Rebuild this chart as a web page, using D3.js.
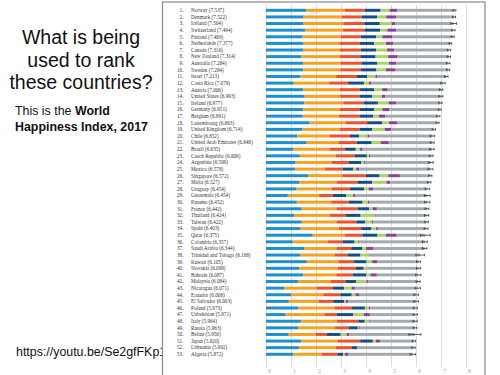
<!DOCTYPE html>
<html lang="en">
<head>
	<meta charset="UTF-8">
	<title>world happiness 2017</title>
	<style>
		body { margin: 0; background: #fff; }
		svg { display: block; }
	</style>
</head>
<body>
	<svg id="container" width="500" height="375"></svg>
</body>
<script src="https://cdn.jsdelivr.net/npm/d3@7"></script>
<script>
	// rows as they appear in the report, top to bottom
	let countries = ["Norway","Denmark","Iceland","Switzerland","Finland","Netherlands","Canada","New Zealand","Australia","Sweden",
		"Israel","Costa Rica","Austria","United States","Ireland","Germany","Belgium","Luxembourg","United Kingdom","Chile",
		"United Arab Emirates","Brazil","Czech Republic","Argentina","Mexico","Singapore","Malta","Uruguay","Guatemala","Panama",
		"France","Thailand","Taiwan","Spain","Qatar","Colombia","Saudi Arabia","Trinidad and Tobago","Kuwait","Slovakia",
		"Bahrain","Malaysia","Nicaragua","Ecuador","El Salvador","Poland","Uzbekistan","Italy","Russia","Belize",
		"Japan","Lithuania","Algeria"]
	let score = [7.537,7.522,7.504,7.494,7.469,7.377,7.316,7.314,7.284,7.284,
		7.213,7.079,7.006,6.993,6.977,6.951,6.891,6.863,6.714,6.652,
		6.648,6.635,6.609,6.599,6.578,6.572,6.527,6.454,6.454,6.452,
		6.442,6.424,6.422,6.403,6.375,6.357,6.344,6.168,6.105,6.098,
		6.087,6.084,6.071,6.008,6.003,5.973,5.971,5.964,5.963,5.956,
		5.920,5.902,5.872]
	let whiskerLow = [7.480,7.462,7.386,7.426,7.410,7.326,7.249,7.247,7.212,7.224,
		7.146,6.990,6.942,6.912,6.911,6.896,6.827,6.803,6.644,6.559,
		6.574,6.545,6.535,6.508,6.480,6.508,6.458,6.363,6.343,6.347,
		6.365,6.339,6.350,6.326,6.182,6.260,6.255,5.994,6.024,6.018,
		5.983,6.003,5.967,5.918,5.911,5.894,5.886,5.878,5.886,5.715,
		5.855,5.834,5.766]
	let whiskerHigh = [7.594,7.582,7.622,7.562,7.528,7.427,7.384,7.380,7.356,7.344,
		7.280,7.168,7.070,7.074,7.043,7.006,6.955,6.923,6.784,6.745,
		6.722,6.725,6.683,6.690,6.676,6.636,6.596,6.545,6.566,6.557,
		6.519,6.509,6.494,6.480,6.568,6.454,6.433,6.342,6.186,6.178,
		6.191,6.165,6.175,6.098,6.095,6.052,6.056,6.050,6.040,6.197,
		5.985,5.970,5.978]
	let gdp = [1.616,1.482,1.481,1.565,1.444,1.504,1.479,1.406,1.484,1.494,
		1.376,1.110,1.487,1.546,1.535,1.488,1.464,1.742,1.442,1.253,
		1.627,1.107,1.353,1.185,1.153,1.692,1.343,1.218,0.873,1.234,
		1.431,1.128,1.434,1.384,1.870,1.071,1.531,1.361,1.633,1.326,
		1.489,1.292,0.737,1.001,0.910,1.292,0.786,1.395,1.282,0.907,
		1.417,1.315,1.092]
	let social = [1.534,1.551,1.611,1.517,1.540,1.429,1.481,1.548,1.510,1.478,
		1.431,1.416,1.460,1.420,1.558,1.473,1.462,1.458,1.497,1.284,
		1.266,1.431,1.434,1.440,1.210,1.354,1.488,1.412,1.256,1.373,
		1.387,1.426,1.384,1.532,1.275,1.402,1.287,1.380,1.260,1.548,
		1.324,1.285,1.287,1.286,1.182,1.445,1.548,1.444,1.470,1.081,
		1.436,1.473,1.146]
	let health = [0.797,0.793,0.834,0.858,0.809,0.811,0.835,0.817,0.844,0.831,
		0.834,0.760,0.815,0.774,0.810,0.799,0.818,0.845,0.806,0.819,
		0.726,0.617,0.754,0.695,0.710,0.949,0.822,0.719,0.541,0.706,
		0.844,0.648,0.794,0.889,0.710,0.595,0.591,0.520,0.632,0.721,
		0.653,0.619,0.653,0.685,0.596,0.699,0.499,0.853,0.547,0.451,
		0.913,0.629,0.618]
	let freedom = [0.635,0.626,0.627,0.620,0.618,0.585,0.611,0.614,0.602,0.613,
		0.405,0.632,0.568,0.505,0.573,0.563,0.540,0.597,0.508,0.377,
		0.608,0.437,0.491,0.494,0.413,0.550,0.589,0.579,0.531,0.550,
		0.470,0.581,0.361,0.409,0.604,0.477,0.450,0.519,0.496,0.313,
		0.536,0.403,0.447,0.456,0.432,0.520,0.658,0.256,0.374,0.548,
		0.506,0.234,0.233]
	let generosity = [0.362,0.355,0.476,0.291,0.245,0.470,0.436,0.500,0.478,0.385,
		0.331,0.197,0.316,0.393,0.428,0.336,0.231,0.283,0.493,0.326,
		0.360,0.162,0.088,0.110,0.120,0.346,0.575,0.175,0.284,0.211,
		0.130,0.572,0.258,0.190,0.330,0.149,0.147,0.325,0.228,0.128,
		0.173,0.422,0.301,0.150,0.079,0.158,0.416,0.173,0.052,0.240,
		0.121,0.010,0.069]
	let trust = [0.316,0.401,0.154,0.367,0.383,0.283,0.287,0.383,0.301,0.384,
		0.085,0.106,0.221,0.136,0.298,0.277,0.252,0.318,0.265,0.082,
		0.324,0.112,0.037,0.060,0.132,0.464,0.153,0.178,0.077,0.070,
		0.172,0.032,0.064,0.071,0.439,0.047,0.274,0.009,0.215,0.007,
		0.257,0.057,0.131,0.141,0.089,0.048,0.247,0.028,0.033,0.097,
		0.164,0.012,0.146]
	let tickLabels = ["0","1","2","3","4","5","6","7","8"]

	let parts = ["gdp","social","health","freedom","generosity","trust","dystopia"]
	let colors = ["#1b8fd2","#f7a11f","#ef5228","#0f4f8c","#a9d65e","#8d3e9e","#a3aaaf"]

	let rows = countries.map((c, i) => {
		let known = gdp[i] + social[i] + health[i] + freedom[i] + generosity[i] + trust[i]
		return {
			name: c, rank: i + 1, score: score[i], lo: whiskerLow[i], hi: whiskerHigh[i],
			gdp: gdp[i], social: social[i], health: health[i], freedom: freedom[i],
			generosity: generosity[i], trust: trust[i], dystopia: score[i] - known
		}
	})

	let svg = d3.select("#container")

	// left slide text
	let title = ["What is being", "used to rank", "these countries?"]
	svg.selectAll(".title").data(title).enter().append("text")
		.attr("x", 81).attr("y", (d, i) => 44 + i * 22.5)
		.attr("text-anchor", "middle")
		.style("font-family", "'Liberation Sans', Arial, sans-serif")
		.style("font-size", "19.5px").attr("fill", "#111")
		.text(d => d)

	let sub = svg.append("text")
		.style("font-family", "'Liberation Sans', Arial, sans-serif")
		.style("font-size", "12.4px").attr("fill", "#111")
	sub.append("tspan").attr("x", 15).attr("y", 114.5).text("This is the ")
	sub.append("tspan").style("font-weight", "bold").text("World")
	sub.append("tspan").attr("x", 15).attr("y", 131).style("font-weight", "bold").text("Happiness Index, 2017")

	// link runs under the chart picture, so clip it at the frame
	svg.append("clipPath").attr("id", "urlclip")
		.append("rect").attr("x", 0).attr("y", 330).attr("width", 162).attr("height", 45)
	svg.append("text")
		.attr("x", 16).attr("y", 356)
		.attr("clip-path", "url(#urlclip)")
		.style("font-family", "'Liberation Sans', Arial, sans-serif")
		.style("font-size", "12.4px").attr("fill", "#111")
		.text("https://youtu.be/Se2gfFKp1")

	// chart picture panel
	let panel = svg.append("g")
	panel.append("rect")
		.attr("x", 162.5).attr("y", 2).attr("width", 322.5).attr("height", 380)
		.attr("fill", "#fff").attr("stroke", "#8a8a8a").attr("stroke-width", 1.2)

	let x = d3.scaleLinear().domain([0, 8]).range([266, 466])
	let y = d3.scaleBand().domain(countries).range([7, 357.6])
		.paddingInner(0.55).paddingOuter(0.275)

	let axis = d3.axisBottom(x)
		.tickValues(d3.range(0, 9))
		.tickFormat((d, i) => tickLabels[i])
		.tickSize(-362)
	let ax = panel.append("g")
		.attr("transform", "translate(0,367)")
		.call(axis)
	ax.select(".domain").remove()
	ax.selectAll(".tick line").attr("stroke", "#dcdcdc")
	ax.selectAll(".tick text")
		.attr("y", 1.5).attr("dx", 1.5).attr("text-anchor", "start")
		.attr("fill", "#aaa")
		.style("font-family", "'Liberation Serif', serif")
		.style("font-size", "6px")

	let stack = d3.stack().keys(parts)(rows)
	panel.selectAll(".layer").data(stack).enter().append("g")
		.attr("fill", (d, i) => colors[i])
		.selectAll("rect").data(d => d).enter().append("rect")
		.attr("x", d => x(d[0]))
		.attr("y", d => y(d.data.name))
		.attr("width", d => x(d[1]) - x(d[0]))
		.attr("height", y.bandwidth())

	// confidence whiskers
	let wh = panel.append("g").attr("stroke", "#3a3a3a").attr("stroke-width", 0.8)
	let mid = d => y(d.name) + y.bandwidth() / 2
	wh.selectAll(".w").data(rows).enter().append("line")
		.attr("x1", d => x(d.lo)).attr("x2", d => x(d.hi))
		.attr("y1", mid).attr("y2", mid)
	wh.selectAll(".cl").data(rows).enter().append("line")
		.attr("x1", d => x(d.lo)).attr("x2", d => x(d.lo))
		.attr("y1", d => mid(d) - 1.3).attr("y2", d => mid(d) + 1.3)
	wh.selectAll(".ch").data(rows).enter().append("line")
		.attr("x1", d => x(d.hi)).attr("x2", d => x(d.hi))
		.attr("y1", d => mid(d) - 1.3).attr("y2", d => mid(d) + 1.3)

	// country labels
	let lab = panel.append("g")
		.style("font-family", "'Liberation Serif', 'DejaVu Serif', serif")
		.style("font-size", "5.2px").attr("fill", "#333")
	lab.selectAll(".rk").data(rows).enter().append("text")
		.attr("x", 183.5).attr("y", mid).attr("dy", "0.35em")
		.attr("text-anchor", "end")
		.text(d => d.rank + ".")
	lab.selectAll(".nm").data(rows).enter().append("text")
		.attr("x", 191).attr("y", mid).attr("dy", "0.35em")
		.text(d => d.name + " (" + d.score.toFixed(3) + ")")
</script>
</html>
